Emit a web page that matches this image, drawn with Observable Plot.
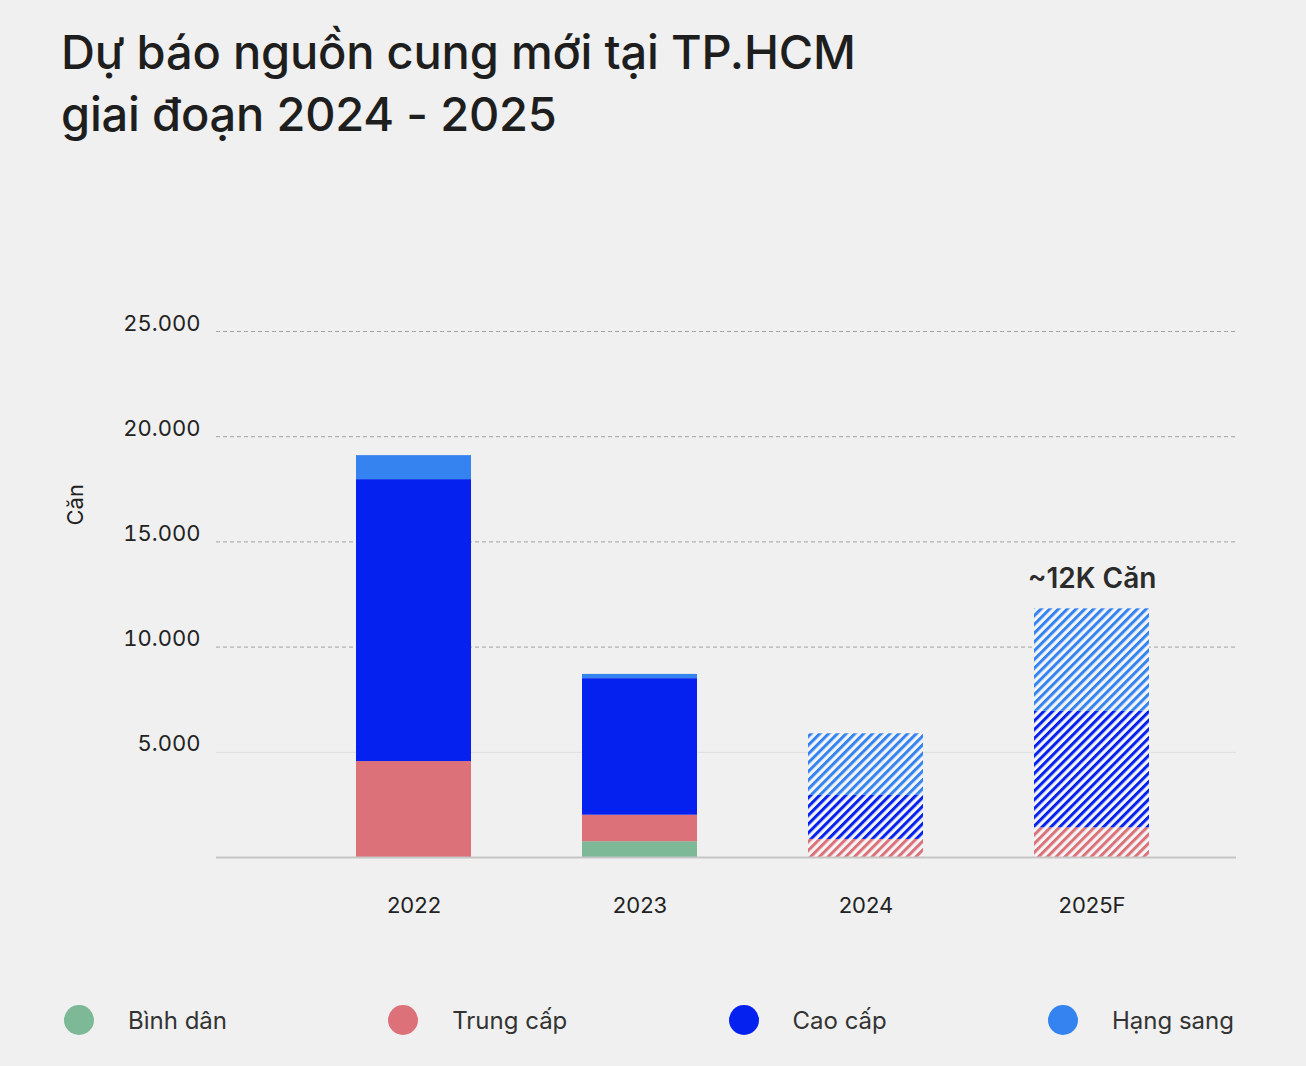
<!DOCTYPE html>
<html>
<head>
<meta charset="utf-8">
<script src="https://cdn.jsdelivr.net/npm/d3@7"></script>
<script src="https://cdn.jsdelivr.net/npm/@observablehq/plot@0.6"></script>
<style>
  html, body { margin: 0; padding: 0; background: #eff0ef; }
  body { width: 1306px; height: 1066px; position: relative; overflow: hidden; font-family: Inter, "Noto Sans", sans-serif; color: #222; }
  #title { position: absolute; left: 61px; top: 21px; font-size: 47px; font-weight: 500; line-height: 62px; color: #1e1e1e; letter-spacing: -0.2px; }
  #chart { position: absolute; left: 0; top: 280px; }
  #legend { position: absolute; left: 64px; width: 1170px; top: 1005px; display: flex; justify-content: space-between; align-items: center; }
  .item { display: flex; align-items: center; font-size: 24px; color: #333; }
  .dot { width: 30px; height: 30px; border-radius: 50%; margin-right: 34px; }
</style>
</head>
<body>
<div id="title">Dự báo nguồn cung mới tại TP.HCM<br>giai đoạn 2024 - 2025</div>
<div id="chart"></div>
<div id="legend"></div>
<script>
// ---- data ----
const years = ["2022", "2023", "2024", "2025F"];
const forecast = [false, false, true, true];
const seriesNames = ["Bình dân", "Trung cấp", "Cao cấp", "Hạng sang"];
const binhDan = [0, 750, 0, 0];
const trungCap = [4560, 1260, 860, 1410];
const caoCap = [13400, 6490, 2090, 5540];
const hangSang = [1140, 200, 2930, 4870];
const seriesColors = ["#7db897", "#dc717a", "#0521f0", "#3583f1"];
const yTicks = [5000, 10000, 15000, 20000, 25000];
const annotationYear = "2025F";
const annotationText = "~12K Căn";
const yLabel = "Căn";

const seriesValues = [binhDan, trungCap, caoCap, hangSang];
const hatchIds = ["hatch-green", "hatch-red", "hatch-blue", "hatch-light"];

const rows = [];
years.forEach((yr, i) => {
  seriesValues.forEach((vals, s) => {
    rows.push({
      year: yr,
      series: seriesNames[s],
      value: vals[i],
      fill: forecast[i] ? `url(#${hatchIds[s]})` : seriesColors[s]
    });
  });
});
const totals = years.map((yr, i) => ({year: yr, total: seriesValues.reduce((a, v) => a + v[i], 0)}));
const annot = totals.filter(d => d.year === annotationYear).map(d => ({...d, text: annotationText}));

const loc = d3.formatLocale({decimal: ",", thousands: ".", grouping: [3], currency: ["", ""]});
const fmt = loc.format(",d");

const fontFamily = "Inter, 'Noto Sans', sans-serif";

const plot = Plot.plot({
  width: 1306,
  height: 670,
  marginLeft: 216,
  marginRight: 70,
  marginTop: 51,
  marginBottom: 93,
  style: {background: "transparent", fontFamily, color: "#222", overflow: "visible"},
  x: {domain: years, range: [245, 1260], paddingInner: 0.49, paddingOuter: 0.49},
  y: {domain: [0, 25000]},
  color: {type: "identity"},
  marks: [
    Plot.ruleY(yTicks.filter(t => t !== 5000), {stroke: "#9a9a9a", strokeWidth: 1, strokeDasharray: "4,3", strokeOpacity: 0.9}),
    Plot.ruleY([5000], {stroke: "#dedede", strokeWidth: 1}),
    Plot.barY(rows, Plot.stackY({x: "year", y: "value", z: "series", fill: "fill", inset: 0})),
    Plot.ruleY([0], {stroke: "#c6c6c6", strokeWidth: 2}),
    Plot.axisY({ticks: yTicks, tickSize: 0, tickPadding: 16, tickFormat: fmt, fontSize: 22, dy: -8, label: null, fill: "#222"}),
    Plot.axisX({tickSize: 0, tickPadding: 40, fontSize: 22, label: null, fill: "#222"}),
    Plot.text([yLabel], {frameAnchor: "left", rotate: -90, dx: -141, dy: -69, fontSize: 22, fill: "#222"}),
    Plot.text(annot, {x: "year", y: "total", text: "text", dy: -30, fontSize: 28, fontWeight: 600, fill: "#2b2b2b"})
  ]
});

// inject hatch patterns
const ns = "http://www.w3.org/2000/svg";
const defs = document.createElementNS(ns, "defs");
hatchIds.forEach((id, s) => {
  const p = document.createElementNS(ns, "pattern");
  p.setAttribute("id", id);
  p.setAttribute("patternUnits", "userSpaceOnUse");
  p.setAttribute("width", "6.2");
  p.setAttribute("height", "6.2");
  p.setAttribute("patternTransform", "rotate(45)");
  const bg = document.createElementNS(ns, "rect");
  bg.setAttribute("width", "6.2"); bg.setAttribute("height", "6.2"); bg.setAttribute("fill", "#f5f6f6");
  const st = document.createElementNS(ns, "rect");
  st.setAttribute("width", "3"); st.setAttribute("height", "6.2"); st.setAttribute("fill", seriesColors[s]);
  p.appendChild(bg); p.appendChild(st);
  defs.appendChild(p);
});
plot.insertBefore(defs, plot.firstChild);
document.getElementById("chart").appendChild(plot);

// legend
const legend = document.getElementById("legend");
seriesNames.forEach((name, s) => {
  const it = document.createElement("div");
  it.className = "item";
  const dot = document.createElement("span");
  dot.className = "dot";
  dot.style.background = seriesColors[s];
  const lab = document.createElement("span");
  lab.textContent = name;
  it.appendChild(dot); it.appendChild(lab);
  legend.appendChild(it);
});
</script>
</body>
</html>
